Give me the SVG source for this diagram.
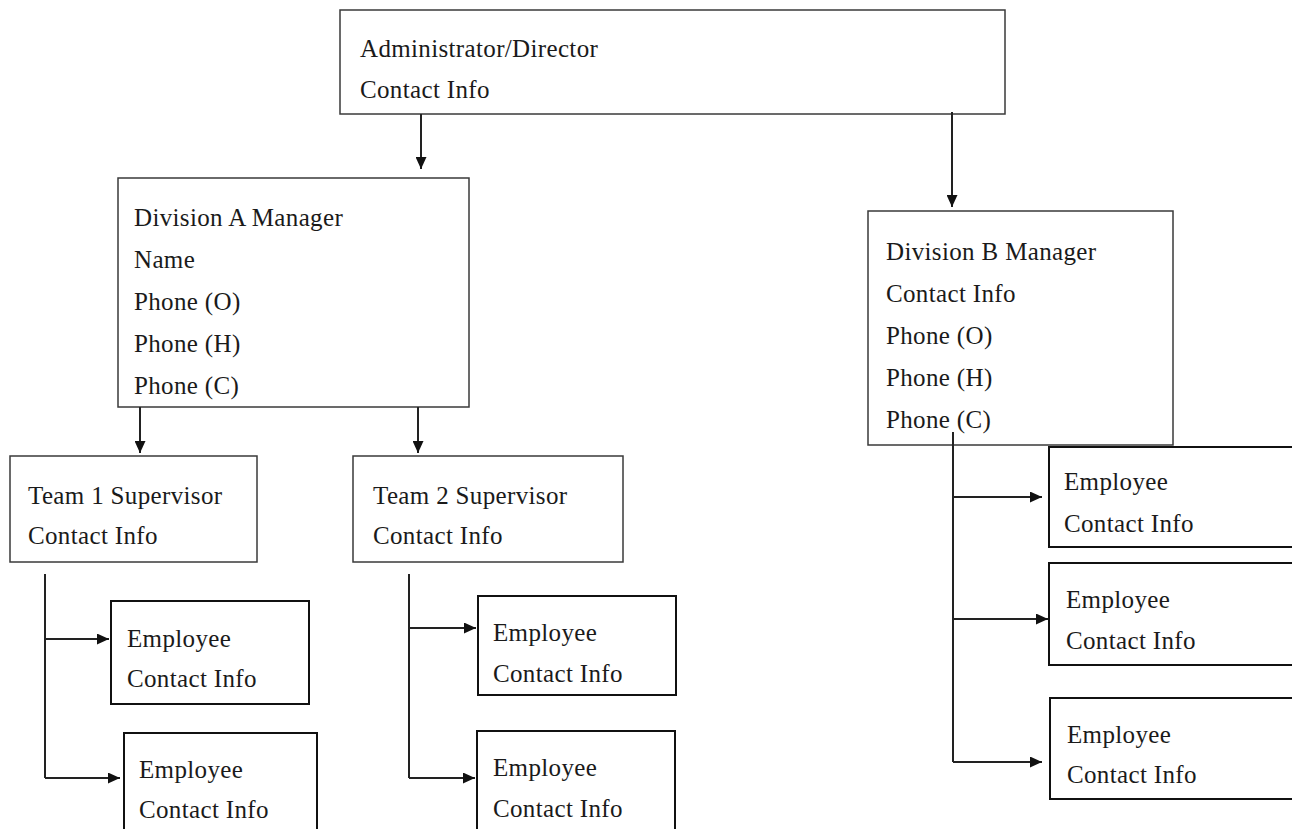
<svg xmlns="http://www.w3.org/2000/svg" width="1292" height="829" viewBox="0 0 1292 829">
<defs>
<style>
.box{fill:#fff;stroke:#3a3a3a;stroke-width:1.5}
.emp{fill:#fff;stroke:#111;stroke-width:2}
.c{fill:none;stroke:#222;stroke-width:2}
</style>
<marker id="ah" markerUnits="userSpaceOnUse" markerWidth="13" markerHeight="11" refX="12" refY="5.5" orient="auto">
<path d="M0,0 L12,5.5 L0,11 z" fill="#111"/>
</marker>
</defs>
<rect width="1292" height="829" fill="#fff"/>
<g font-family="Liberation Serif, Times New Roman, DejaVu Serif, serif" font-size="25" letter-spacing="0.35" fill="#1a1a1a">
<g id="admin">
<rect class="box" x="340" y="10" width="665" height="104"/>
<text x="360" y="57">Administrator/Director</text>
<text x="360" y="98">Contact Info</text>
</g>
<g id="divA">
<rect class="box" x="118" y="178" width="351" height="229"/>
<text x="134" y="226">Division A Manager</text>
<text x="134" y="268">Name</text>
<text x="134" y="310">Phone (O)</text>
<text x="134" y="352">Phone (H)</text>
<text x="134" y="394">Phone (C)</text>
</g>
<g id="divB">
<rect class="box" x="868" y="211" width="305" height="234"/>
<text x="886" y="260">Division B Manager</text>
<text x="886" y="302">Contact Info</text>
<text x="886" y="344">Phone (O)</text>
<text x="886" y="386">Phone (H)</text>
<text x="886" y="428">Phone (C)</text>
</g>
<g id="team1">
<rect class="box" x="10" y="456" width="247" height="106"/>
<text x="28" y="504">Team 1 Supervisor</text>
<text x="28" y="544">Contact Info</text>
</g>
<g id="team2">
<rect class="box" x="353" y="456" width="270" height="106"/>
<text x="373" y="504">Team 2 Supervisor</text>
<text x="373" y="544">Contact Info</text>
</g>
<g id="emp-t1-1">
<rect class="emp" x="111" y="601" width="198" height="103"/>
<text x="127" y="647">Employee</text>
<text x="127" y="687">Contact Info</text>
</g>
<g id="emp-t1-2">
<rect class="emp" x="124" y="733" width="193" height="110"/>
<text x="139" y="778">Employee</text>
<text x="139" y="818">Contact Info</text>
</g>
<g id="emp-t2-1">
<rect class="emp" x="478" y="596" width="198" height="99"/>
<text x="493" y="641">Employee</text>
<text x="493" y="682">Contact Info</text>
</g>
<g id="emp-t2-2">
<rect class="emp" x="477" y="731" width="198" height="112"/>
<text x="493" y="776">Employee</text>
<text x="493" y="817">Contact Info</text>
</g>
<g id="emp-b1">
<rect class="emp" x="1049" y="447" width="260" height="100"/>
<text x="1064" y="490">Employee</text>
<text x="1064" y="532">Contact Info</text>
</g>
<g id="emp-b2">
<rect class="emp" x="1049" y="563" width="260" height="102"/>
<text x="1066" y="608">Employee</text>
<text x="1066" y="649">Contact Info</text>
</g>
<g id="emp-b3">
<rect class="emp" x="1050" y="698" width="260" height="101"/>
<text x="1067" y="743">Employee</text>
<text x="1067" y="783">Contact Info</text>
</g>
</g>
<g id="connectors">
<path class="c" d="M421,114 V169" marker-end="url(#ah)"/>
<path class="c" d="M952,112 V207" marker-end="url(#ah)"/>
<path class="c" d="M140,407 V453" marker-end="url(#ah)"/>
<path class="c" d="M418,407 V453" marker-end="url(#ah)"/>
<path class="c" d="M45,574 V778"/>
<path class="c" d="M45,639 H109" marker-end="url(#ah)"/>
<path class="c" d="M45,778 H120" marker-end="url(#ah)"/>
<path class="c" d="M409,574 V778"/>
<path class="c" d="M409,628 H476" marker-end="url(#ah)"/>
<path class="c" d="M409,778 H475" marker-end="url(#ah)"/>
<path class="c" d="M953,432 V762"/>
<path class="c" d="M953,497 H1042" marker-end="url(#ah)"/>
<path class="c" d="M953,619 H1048" marker-end="url(#ah)"/>
<path class="c" d="M953,762 H1042" marker-end="url(#ah)"/>
</g>
</svg>
